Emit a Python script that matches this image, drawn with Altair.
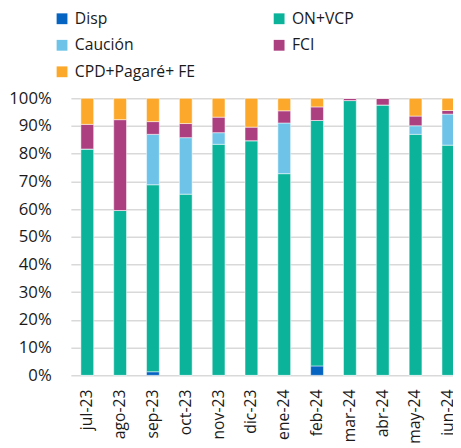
import altair as alt
import pandas as pd

months = ["jul-23", "ago-23", "sep-23", "oct-23", "nov-23", "dic-23",
          "ene-24", "feb-24", "mar-24", "abr-24", "may-24", "jun-24"]
series = ["Disp", "ON+VCP", "Caución", "FCI", "CPD+Pagaré+ FE"]
colors = ["#0563C1", "#0BB39A", "#6EC4E8", "#AC3F80", "#FCA82A"]

disp = [0, 0, 1.3, 0, 0, 0, 0, 3.4, 0, 0, 0, 0]
on_vcp = [81.7, 59.5, 67.5, 65.4, 83.4, 84.7, 72.8, 88.6, 99.2, 97.6, 87.0, 83.1]
caucion = [0, 0, 18.2, 20.4, 4.2, 0, 18.3, 0, 0, 0, 3.1, 11.2]
fci = [8.9, 32.8, 4.6, 5.1, 5.6, 4.9, 4.4, 4.9, 0.8, 2.4, 3.5, 1.3]
cpd = [9.4, 7.7, 8.4, 9.1, 6.8, 10.4, 4.5, 3.1, 0, 0, 6.4, 4.4]

rows = []
for i, m in enumerate(months):
    for k, (s, vals) in enumerate(zip(series, [disp, on_vcp, caucion, fci, cpd])):
        rows.append({"mes": m, "serie": s, "valor": vals[i], "orden": k})
df = pd.DataFrame(rows)

FONT = "Open Sans"

chart = alt.Chart(df).mark_bar(size=13, stroke="white", strokeWidth=0.5).encode(
    x=alt.X("mes:N", sort=months, title=None,
            scale=alt.Scale(range=[0, 401], paddingInner=0, paddingOuter=0),
            axis=alt.Axis(labelAngle=-90, domain=False, ticks=False, labelPadding=14,
                          labelFontSize=16, labelColor="#1a1a1a", labelFont=FONT)),
    y=alt.Y("valor:Q", stack="normalize", title=None,
            scale=alt.Scale(domain=[0, 1]),
            axis=alt.Axis(values=[i / 10 for i in range(11)], format=".0%",
                          domain=False, ticks=False, labelPadding=20,
                          labelFontSize=17, labelColor="#1a1a1a", labelFont=FONT,
                          gridColor="#d9d9d9", gridWidth=1.5)),
    color=alt.Color("serie:N", scale=alt.Scale(domain=series, range=colors),
                    legend=alt.Legend(title=None, orient="none", legendX=-17, legendY=-89,
                                      direction="horizontal",
                                      columns=2, columnPadding=77, rowPadding=11,
                                      symbolType="square", symbolSize=121,
                                      symbolStrokeWidth=0, labelFontSize=16,
                                      labelFont=FONT, labelColor="#1a1a1a",
                                      labelOffset=5, padding=0)),
    order=alt.Order("orden:Q"),
).properties(
    width=389, height=282,
    autosize=alt.AutoSizeParams(type="none"),
    padding={"left": 64, "top": 88, "right": 0, "bottom": 70},
).configure_view(stroke=None)

chart.save("out.html", embed_options={"renderer": "svg", "actions": False})
